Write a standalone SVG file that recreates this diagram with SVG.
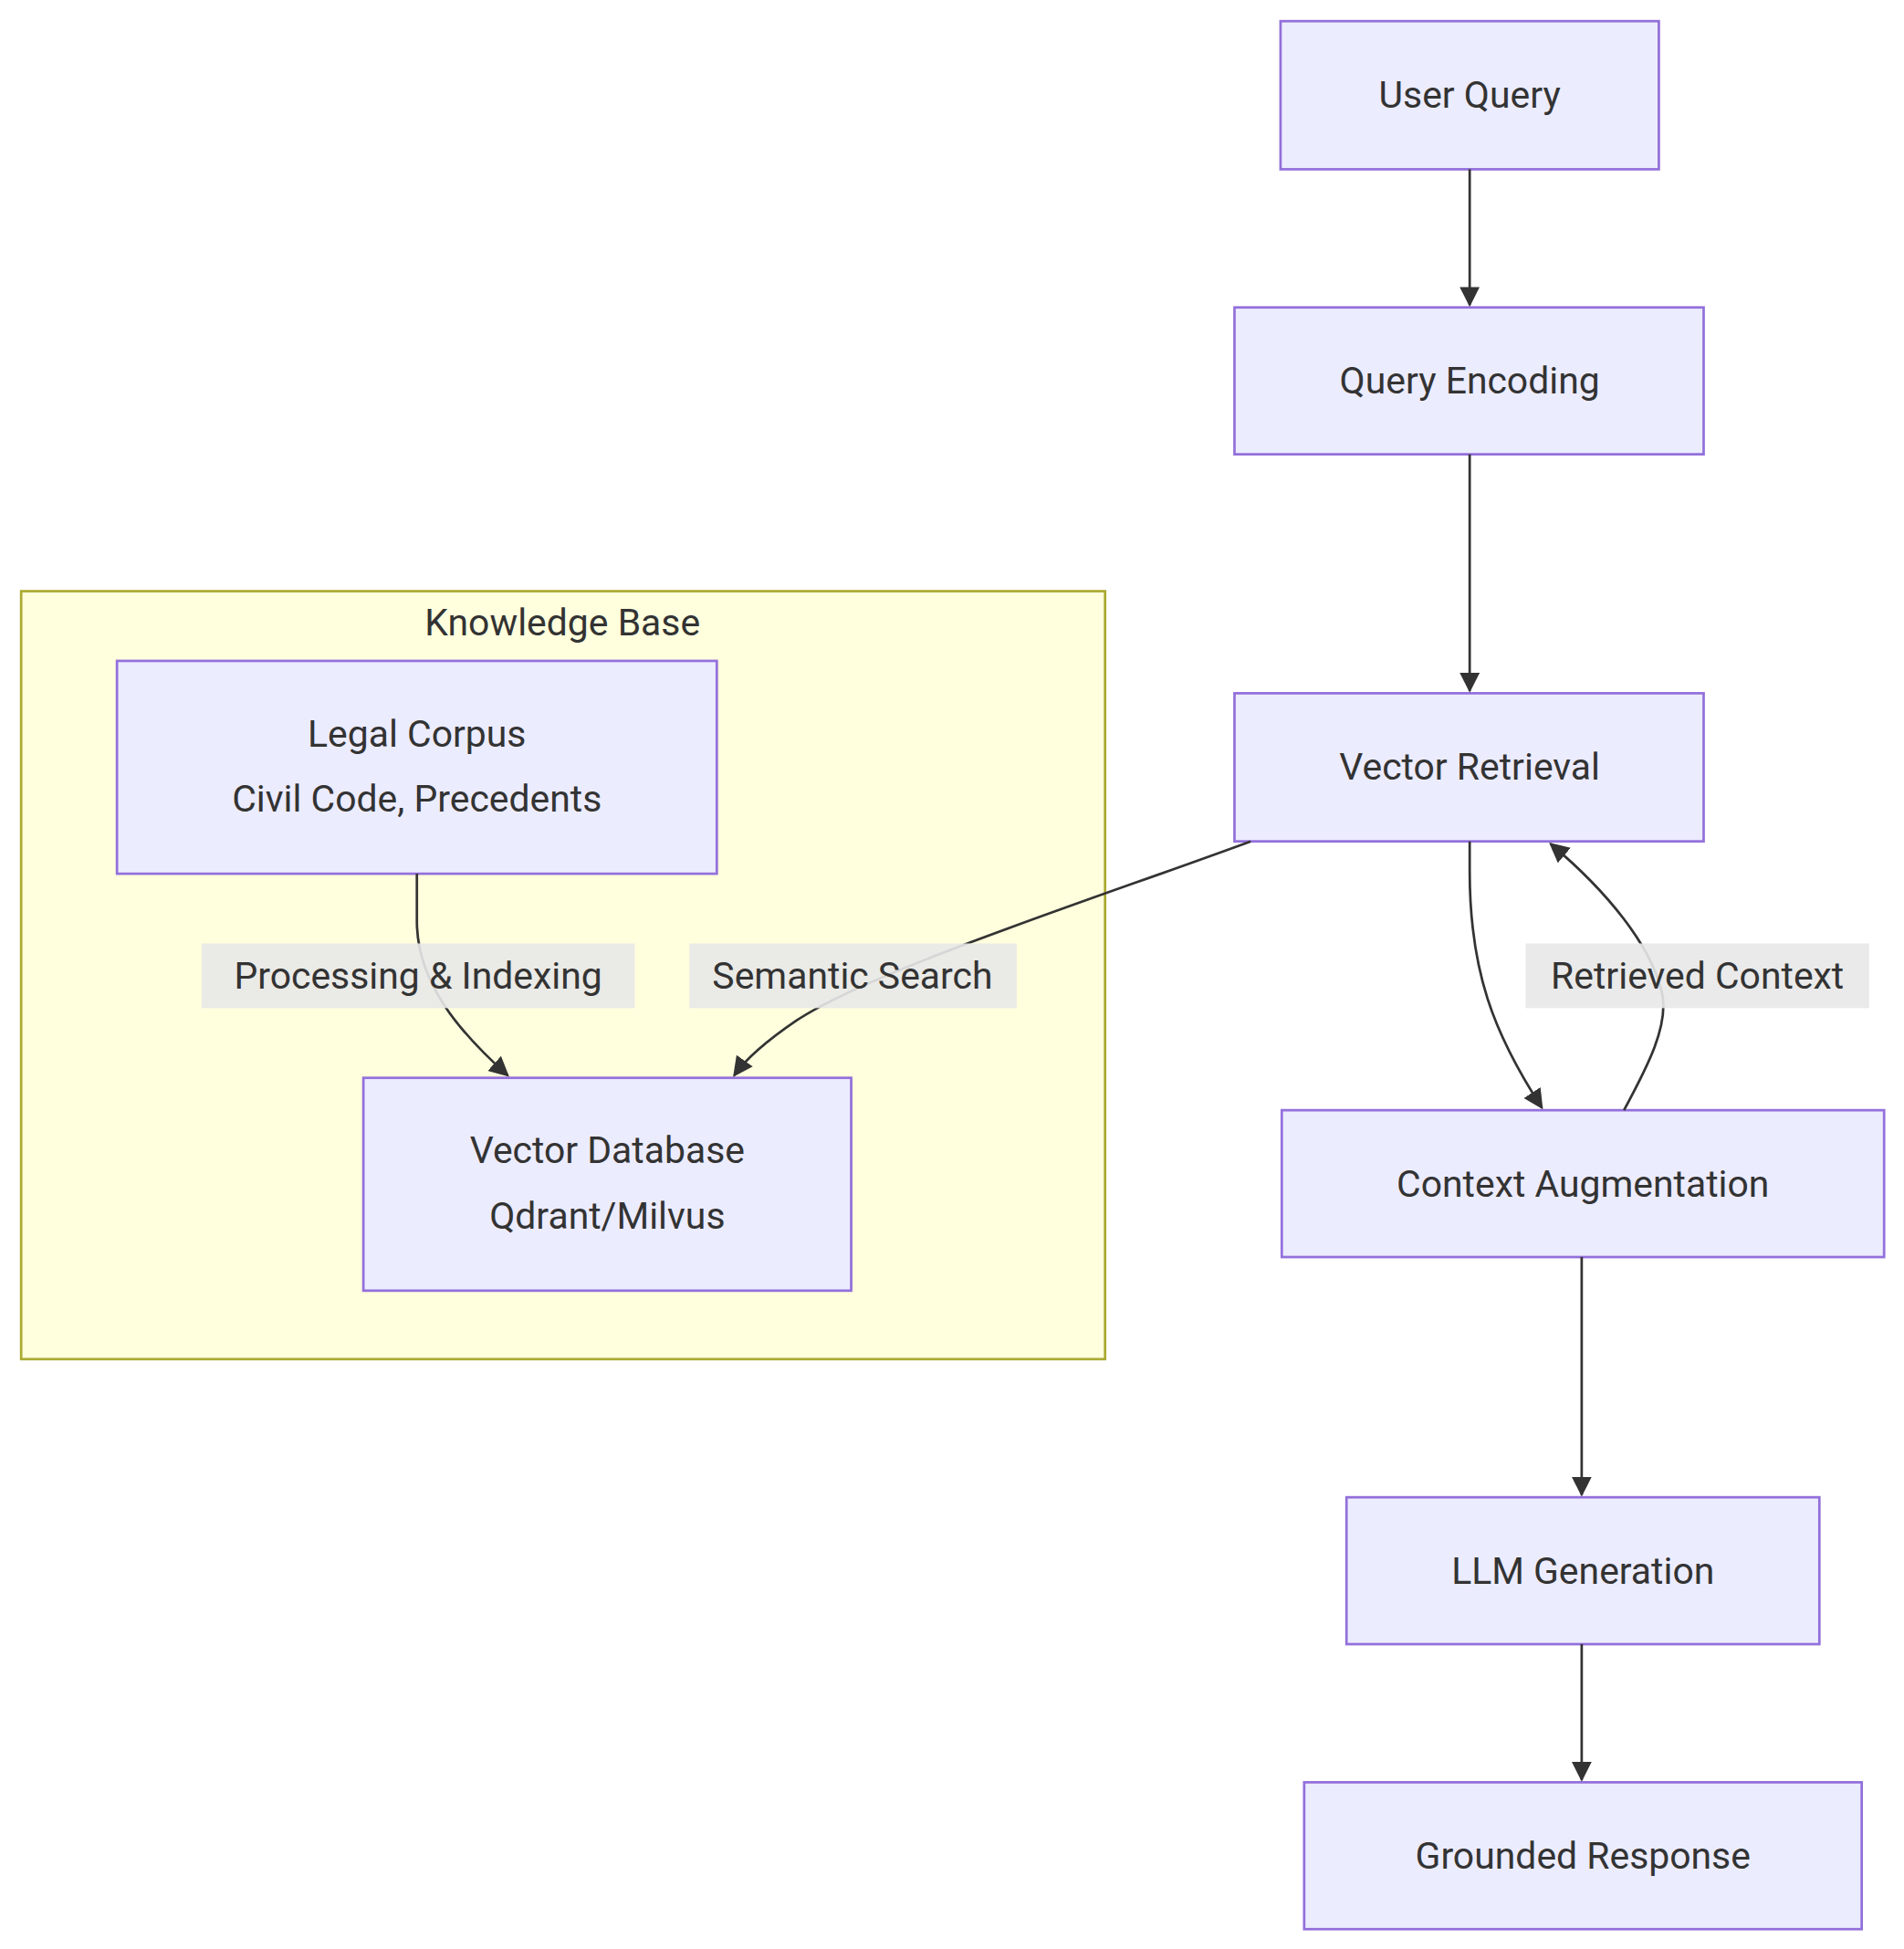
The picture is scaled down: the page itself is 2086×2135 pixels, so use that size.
<svg xmlns="http://www.w3.org/2000/svg" width="2086" height="2135" viewBox="0 0 2086 2135">
<style>
.n rect{fill:#ECECFF;stroke:#9370DB;stroke-width:2}
text{font-family:"Roboto","Liberation Sans",sans-serif;font-size:30px;fill:#333;text-anchor:middle;dominant-baseline:central}
.e{fill:none;stroke:#333;stroke-width:2}
.lb{fill:#e8e8e8;opacity:0.9}
</style>
<defs><marker id="a" viewBox="0 0 10 10" refX="9" refY="5" markerWidth="8" markerHeight="8" orient="auto"><path d="M0,0L10,5L0,10z" fill="#333"/></marker></defs>
<rect width="2086" height="2135" fill="#fff"/>
<g transform="scale(1.3634)">
<g id="kb"><rect x="17" y="475" width="871" height="617" fill="#FFFFDE" stroke="#AAAA33" stroke-width="2"/><text x="452" y="500">Knowledge Base</text></g>
<g id="uq" class="n"><rect x="1029" y="17" width="304" height="119"/><text x="1181" y="76">User Query</text></g>
<g id="qe" class="n"><rect x="992" y="247" width="377" height="118"/><text x="1181" y="306">Query Encoding</text></g>
<g id="vr" class="n"><rect x="992" y="557" width="377" height="119"/><text x="1181" y="616">Vector Retrieval</text></g>
<g id="ca" class="n"><rect x="1030" y="892" width="484" height="118"/><text x="1272" y="951">Context Augmentation</text></g>
<g id="llm" class="n"><rect x="1082" y="1203" width="380" height="118"/><text x="1272" y="1262">LLM Generation</text></g>
<g id="gr" class="n"><rect x="1048" y="1432" width="448" height="118"/><text x="1272" y="1491">Grounded Response</text></g>
<g id="lc" class="n"><rect x="94" y="531" width="482" height="171"/><text x="335" y="590">Legal Corpus</text><text x="335" y="642">Civil Code, Precedents</text></g>
<g id="vdb" class="n"><rect x="292" y="866" width="392" height="171"/><text x="488" y="924">Vector Database</text><text x="488" y="977">Qdrant/Milvus</text></g>
<g id="edges">
<path class="e" d="M1181,136L1181,245" marker-end="url(#a)"/>
<path class="e" d="M1181,365L1181,555" marker-end="url(#a)"/>
<path class="e" d="M1181,676L1181,700C1181,780 1200,830 1239,890" marker-end="url(#a)"/>
<path class="e" d="M1305,892C1325,855 1340,825 1336,800C1328,760 1290,715 1246,678" marker-end="url(#a)"/>
<path class="e" d="M1005,676C880,722 700,780 640,820C615,837 600,850 590,864" marker-end="url(#a)"/>
<path class="e" d="M335,702L335,740C335,790 370,830 408,864" marker-end="url(#a)"/>
<path class="e" d="M1271,1010L1271,1201" marker-end="url(#a)"/>
<path class="e" d="M1271,1321L1271,1430" marker-end="url(#a)"/>
<rect class="lb" x="1226" y="758" width="276" height="52"/><text x="1364" y="784">Retrieved Context</text>
<rect class="lb" x="554" y="758" width="263" height="52"/><text x="685" y="784">Semantic Search</text>
<rect class="lb" x="162" y="758" width="348" height="52"/><text x="336" y="784">Processing &amp; Indexing</text>
</g>
</g>
</svg>
